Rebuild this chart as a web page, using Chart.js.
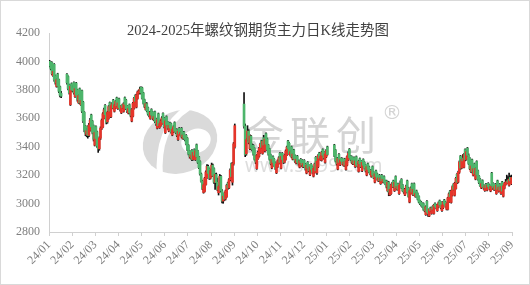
<!DOCTYPE html>
<html>
<head>
<meta charset="utf-8">
<script src="https://cdn.jsdelivr.net/npm/chart.js@4.4.1/dist/chart.umd.min.js"></script>
<style>
html,body{margin:0;padding:0;background:#fff;}
canvas{display:block;}
</style>
</head>
<body>
<canvas id="c" width="530" height="285"></canvas>
<script>
const chartTitle = '2024-2025年螺纹钢期货主力日K线走势图';
const tickLabels = ['24/01','24/02','24/03','24/04','24/05','24/06','24/07','24/08','24/09','24/10','24/11','24/12','25/01','25/02','25/03','25/04','25/05','25/06','25/07','25/08','25/09'];

const opens = [
4000,3994,3992,3900,3980,3900,3824,3912,3870,3822,
3775,null,null,null,null,3910,3894,3836,3695,3844,
3815,3852,3752,3848,3800,3710,3808,3695,3794,3714,
3642,3545,3484,3542,3480,3515,3624,3580,3548,3410,
3542,3505,3419,3385,3460,3528,3538,3600,3691,3625,
3575,3598,3710,3610,3674,3728,3649,3672,3744,3668,
3737,3688,3638,3697,3648,3745,3728,3684,3636,3696,
3660,3580,3615,3670,3760,3678,3739,3778,3779,3818,
3814,3778,3730,3662,3702,3674,3640,3598,3662,3644,
3588,3646,3596,3530,3632,3534,3548,3562,3634,3600,
3498,3612,3574,3510,3568,3562,3482,3504,3570,3520,
3520,3450,3530,3480,3530,3458,3504,3470,3480,3460,
3410,3370,3318,3374,3310,3380,3308,3414,3370,3328,
3296,3208,3158,3078,3086,3134,3182,3262,3246,3178,
3194,3270,3246,3150,3205,3150,3076,3120,3192,3090,
3018,3072,3032,3048,3146,3110,3168,3280,3150,3280,
3400,null,null,null,null,null,null,null,3700,3545,
3350,3450,3510,3385,3475,3400,3410,3388,3332,3246,
3316,3332,3358,3441,3352,3464,3369,3492,3456,3412,
3384,3344,3250,3330,3312,3288,3216,3258,3282,3354,
3248,3354,3330,3290,3310,3342,3440,3424,3339,3400,
3312,3378,3338,3284,3334,3302,3256,3312,3306,3258,
3304,3278,3214,3290,3270,3202,3276,3260,3192,3218,
3326,3215,3258,3356,3308,3304,3380,3360,3290,3328,
3399,null,null,null,null,null,3412,3376,3320,3242,
3346,3272,3318,3316,3268,3314,3240,3270,3308,3382,
3334,3330,3278,3324,3260,3330,3278,3226,3316,3300,
3230,3310,3290,3270,3200,3280,3258,3234,3190,3260,
3220,3150,3230,3210,3160,3200,3140,3200,3150,3190,
3160,3160,3090,3150,3060,3070,3120,3160,3090,3190,
3100,3140,3070,3120,3170,3130,3100,3060,3080,3160,
3110,3010,3070,3140,3060,3140,3050,3090,3070,3050,
3020,3010,3000,3000,2970,2922,3016,2950,2912,2970,
2930,2980,2930,3000,2990,2950,2975,3020,3010,2950,
2970,3025,3010,2960,2960,3012,3088,3008,3058,3136,
3058,3106,3206,3150,3220,3334,3250,3320,3255,3380,
3310,3390,3340,3319,3225,3308,3199,3280,3172,3296,
3230,3192,3171,3110,3162,3128,3091,3138,3094,3142,
3131,3088,3215,3142,3098,3136,3070,3160,3085,3135,
3070,3152,3051,3108,3134,3142,3166,3128,3184,3138
];

const highs = [
4008,3999,3997,3940,3985,3905,3880,3917,3875,3827,
3790,null,null,null,null,3915,3899,3841,3835,3849,
3830,3857,3815,3853,3805,3768,3813,3735,3799,3719,
3647,3550,3530,3547,3565,3600,3629,3585,3553,3510,
3547,3510,3424,3470,3540,3595,3640,3672,3696,3640,
3650,3690,3715,3698,3710,3733,3700,3725,3749,3715,
3742,3690,3692,3700,3710,3750,3733,3689,3675,3701,
3665,3668,3712,3748,3765,3770,3792,3800,3820,3822,
3819,3783,3735,3712,3710,3679,3648,3650,3667,3649,
3620,3651,3601,3598,3637,3570,3590,3612,3639,3605,
3590,3617,3579,3558,3573,3567,3530,3548,3575,3525,
3525,3515,3535,3508,3535,3490,3509,3475,3485,3465,
3415,3375,3352,3379,3368,3385,3380,3419,3375,3333,
3301,3215,3165,3140,3185,3230,3275,3270,3251,3240,
3285,3278,3251,3212,3215,3180,3130,3205,3198,3098,
3060,3077,3095,3135,3151,3175,3245,3285,3290,3430,
3560,null,null,null,null,null,null,null,3780,3560,
3460,3548,3520,3485,3480,3420,3415,3393,3337,3345,
3370,3395,3425,3446,3445,3480,3462,3497,3461,3417,
3389,3349,3318,3335,3317,3293,3285,3308,3330,3359,
3338,3359,3335,3348,3378,3405,3445,3429,3372,3405,
3355,3383,3343,3318,3339,3307,3305,3317,3311,3290,
3309,3283,3275,3295,3275,3265,3281,3265,3252,3285,
3331,3305,3345,3361,3338,3368,3385,3365,3358,3380,
3404,null,null,null,null,null,3417,3381,3325,3325,
3351,3315,3323,3321,3298,3319,3305,3335,3365,3387,
3339,3335,3308,3329,3308,3335,3283,3305,3321,3305,
3295,3315,3295,3275,3265,3285,3263,3239,3238,3265,
3225,3215,3235,3215,3186,3205,3188,3205,3175,3195,
3165,3165,3158,3155,3108,3138,3150,3165,3158,3195,
3128,3145,3135,3160,3175,3135,3105,3108,3130,3165,
3115,3095,3118,3145,3108,3145,3078,3095,3075,3055,
3025,3015,3005,3005,2975,2985,3021,2955,2965,2975,
2975,2985,2995,3005,2995,2995,3012,3025,3015,2995,
3015,3030,3015,3008,3045,3075,3093,3095,3125,3141,
3150,3185,3211,3228,3300,3339,3318,3345,3352,3385,
3372,3395,3350,3324,3272,3313,3250,3285,3255,3301,
3235,3197,3176,3148,3167,3133,3130,3143,3138,3147,
3136,3128,3220,3147,3125,3141,3138,3165,3122,3140,
3125,3157,3130,3150,3170,3200,3190,3215,3195,3200
];

const lows = [
3962,3940,3905,3895,3860,3840,3819,3820,3780,3750,
3745,null,null,null,null,3840,3800,3770,3690,3790,
3785,3770,3747,3755,3720,3705,3700,3690,3640,3570,
3505,3478,3470,3460,3470,3510,3530,3490,3440,3405,
3450,3395,3360,3375,3450,3520,3533,3595,3615,3560,
3565,3593,3640,3605,3670,3665,3644,3667,3680,3663,
3668,3650,3633,3668,3643,3690,3660,3640,3631,3630,
3610,3575,3610,3665,3712,3673,3734,3768,3774,3770,
3735,3700,3675,3657,3645,3622,3610,3593,3615,3590,
3583,3570,3550,3525,3540,3529,3543,3557,3562,3532,
3493,3545,3522,3505,3525,3495,3477,3499,3505,3492,
3470,3445,3485,3475,3462,3453,3452,3440,3412,3372,
3342,3320,3313,3302,3305,3332,3303,3325,3282,3245,
3200,3150,3098,3073,3081,3129,3177,3205,3170,3172,
3189,3190,3142,3100,3140,3090,3060,3112,3080,3005,
3002,3020,3025,3043,3100,3105,3160,3180,3130,3270,
3390,null,null,null,null,null,null,null,3530,3330,
3340,3440,3420,3380,3380,3370,3340,3305,3280,3241,
3311,3327,3353,3385,3347,3405,3364,3410,3372,3340,
3305,3272,3245,3282,3262,3240,3211,3253,3277,3282,
3243,3302,3282,3285,3305,3337,3380,3345,3334,3322,
3307,3312,3290,3279,3282,3270,3251,3280,3262,3253,
3252,3235,3209,3245,3222,3197,3232,3212,3187,3213,
3222,3205,3253,3312,3303,3299,3332,3312,3285,3323,
3340,null,null,null,null,null,3330,3292,3270,3237,
3282,3267,3290,3272,3263,3262,3235,3265,3303,3315,
3302,3282,3273,3275,3255,3262,3255,3221,3272,3252,
3225,3262,3242,3222,3195,3235,3215,3202,3185,3195,
3175,3145,3185,3165,3155,3155,3135,3155,3145,3145,
3132,3110,3085,3055,3055,3065,3115,3112,3085,3105,
3095,3095,3065,3115,3105,3085,3072,3055,3075,3075,
3045,3005,3065,3075,3055,3055,3045,3045,3025,3005,
2992,2982,2972,2952,2942,2917,2935,2910,2908,2942,
2925,2952,2925,2972,2962,2945,2970,2985,2962,2945,
2965,2990,2975,2955,2955,3007,3040,3003,3053,3092,
3053,3101,3140,3145,3212,3240,3245,3290,3250,3300,
3305,3330,3275,3238,3220,3215,3194,3205,3167,3195,
3165,3140,3120,3105,3112,3100,3086,3105,3089,3110,
3098,3083,3115,3100,3093,3095,3065,3095,3080,3088,
3065,3080,3046,3103,3129,3137,3145,3123,3150,3133
];

const closes = [
3970,3950,3912,3930,3870,3850,3872,3828,3790,3762,
3755,null,null,null,null,3850,3810,3780,3825,3800,
3795,3778,3808,3762,3730,3760,3708,3725,3650,3582,
3518,3495,3512,3478,3552,3585,3540,3500,3452,3500,
3458,3405,3385,3462,3530,3585,3632,3660,3625,3572,
3642,3682,3650,3690,3702,3672,3695,3718,3688,3708,
3675,3662,3686,3675,3702,3698,3668,3652,3668,3640,
3620,3660,3705,3740,3720,3762,3785,3792,3805,3778,
3742,3706,3682,3702,3652,3630,3620,3642,3622,3600,
3612,3578,3560,3590,3548,3562,3582,3602,3570,3540,
3582,3552,3530,3550,3532,3502,3522,3540,3510,3500,
3480,3510,3490,3500,3470,3482,3460,3450,3420,3380,
3350,3330,3342,3310,3360,3340,3372,3330,3290,3252,
3208,3158,3105,3132,3178,3222,3262,3212,3178,3232,
3270,3198,3150,3205,3148,3098,3120,3192,3090,3018,
3052,3032,3088,3128,3110,3168,3235,3190,3280,3420,
3548,null,null,null,null,null,null,null,3545,3345,
3450,3510,3430,3475,3390,3380,3350,3312,3292,3338,
3360,3388,3418,3395,3438,3412,3455,3418,3380,3348,
3312,3280,3310,3290,3268,3248,3280,3302,3322,3290,
3332,3310,3290,3340,3370,3398,3388,3352,3365,3330,
3348,3318,3298,3312,3290,3278,3300,3288,3270,3282,
3260,3242,3270,3250,3230,3258,3240,3220,3248,3278,
3230,3298,3338,3320,3332,3360,3340,3320,3350,3372,
3345,null,null,null,null,null,3338,3300,3280,3318,
3290,3308,3298,3280,3292,3270,3300,3330,3352,3322,
3310,3290,3302,3280,3300,3270,3262,3298,3280,3260,
3290,3270,3250,3230,3260,3240,3222,3210,3230,3200,
3180,3210,3190,3170,3180,3160,3180,3160,3170,3150,
3140,3120,3150,3080,3100,3130,3140,3120,3150,3110,
3120,3100,3130,3140,3110,3090,3080,3100,3120,3080,
3050,3090,3110,3080,3100,3060,3070,3050,3030,3010,
3000,2990,2980,2960,2950,2978,2940,2930,2960,2950,
2970,2960,2990,2980,2970,2990,3005,2990,2970,2990,
3010,2995,2980,3000,3040,3068,3048,3088,3118,3100,
3142,3178,3150,3220,3292,3250,3310,3300,3345,3310,
3365,3340,3282,3245,3265,3222,3245,3210,3248,3200,
3170,3148,3125,3140,3118,3108,3125,3112,3130,3118,
3105,3122,3125,3108,3118,3100,3130,3100,3115,3095,
3120,3088,3125,3142,3150,3158,3150,3172,3160,3182
];

const UP = '#E5352A';
const DOWN = '#4DB56B';

const wickData = [], bodyData = [], bodyColors = [];
for (let i = 0; i < closes.length; i++) {
  if (closes[i] == null) continue;
  wickData.push({x: i + 0.5, y: [lows[i], highs[i]]});
  bodyData.push({x: i + 0.5, y: [opens[i], closes[i]]});
  bodyColors.push(closes[i] >= opens[i] ? UP : DOWN);
}

const framePlugin = {
  id: 'frame',
  beforeDraw(chart) {
    const ctx = chart.ctx;
    ctx.save();
    ctx.fillStyle = '#fff';
    ctx.fillRect(0, 0, chart.width, chart.height);
    ctx.restore();
  },
  afterDraw(chart) {
    const ctx = chart.ctx;
    ctx.save();
    ctx.strokeStyle = '#d9d9d9';
    ctx.lineWidth = 1;
    ctx.strokeRect(0.5, 0.5, chart.width - 1, chart.height - 1);
    ctx.fillStyle = '#404040';
    ctx.font = "14.5px 'Liberation Serif', 'Noto Sans CJK SC'";
    ctx.textAlign = 'center';
    ctx.textBaseline = 'middle';
    ctx.fillText(chartTitle, 258, 31);
    ctx.restore();
  }
};

const watermarkPlugin = {
  id: 'watermark',
  beforeDatasetsDraw(chart) {
    const ctx = chart.ctx;
    ctx.save();
    ctx.fillStyle = '#dadada';
    ctx.beginPath();
    ctx.ellipse(180, 142, 38, 31, -0.35, 0, Math.PI * 2);
    ctx.fill();
    ctx.fillStyle = '#fff';
    ctx.beginPath();
    ctx.ellipse(196, 141, 15, 12, -0.35, 0, Math.PI * 2);
    ctx.fill();
    ctx.strokeStyle = '#fff';
    ctx.lineWidth = 6;
    ctx.beginPath();
    ctx.moveTo(160, 178);
    ctx.quadraticCurveTo(156, 128, 188, 108);
    ctx.stroke();
    ctx.fillStyle = '#d4d4d4';
    ctx.font = "40px 'Noto Sans CJK SC'";
    ctx.textBaseline = 'middle';
    ctx.textAlign = 'left';
    try { ctx.letterSpacing = '6px'; } catch (e) {}
    ctx.fillText('金联创', 244, 135);
    try { ctx.letterSpacing = '0px'; } catch (e) {}
    ctx.font = "20px 'DejaVu Sans'";
    ctx.fillText('®', 382, 114);
    ctx.fillStyle = '#dddddd';
    ctx.font = "19px 'Noto Sans'";
    ctx.fillText('www.sci99.com', 245, 167);
    ctx.restore();
  }
};

const axisFont = {family: "'Liberation Serif', 'DejaVu Serif', serif", size: 12};

new Chart(document.getElementById('c'), {
  type: 'bar',
  data: {
    datasets: [
      {label: 'wick', data: wickData, backgroundColor: '#111111', barThickness: 1, order: 2, grouped: false},
      {label: 'body', data: bodyData, backgroundColor: bodyColors, barThickness: 2, minBarLength: 1, order: 1, grouped: false}
    ]
  },
  options: {
    responsive: false,
    animation: false,
    layout: {padding: {top: 33, right: 18, left: 0, bottom: 0}},
    plugins: {legend: {display: false}, tooltip: {enabled: false}, title: {display: false}},
    scales: {
      x: {
        type: 'linear', min: 0, max: 400, offset: false,
        afterBuildTicks: s => { s.ticks = tickLabels.map((_, k) => ({value: k * 20})); },
        afterFit: s => { s.height = 53; },
        ticks: {autoSkip: false, maxRotation: 45, minRotation: 45, color: '#7f7f7f', font: axisFont, padding: 2,
          callback: v => tickLabels[Math.round(v / 20)]},
        grid: {display: true, drawOnChartArea: false, drawTicks: true, tickLength: 4, color: '#d0d0d0', offset: false},
        border: {display: true, color: '#d0d0d0'}
      },
      y: {
        min: 2800, max: 4200,
        afterFit: s => { s.width = 49; },
        ticks: {stepSize: 200, color: '#7f7f7f', font: axisFont, padding: 9, callback: v => String(v)},
        grid: {display: true, drawOnChartArea: false, drawTicks: false, color: '#d0d0d0'},
        border: {display: true, color: '#d0d0d0'}
      }
    }
  },
  plugins: [framePlugin, watermarkPlugin]
});
</script>
</body>
</html>
